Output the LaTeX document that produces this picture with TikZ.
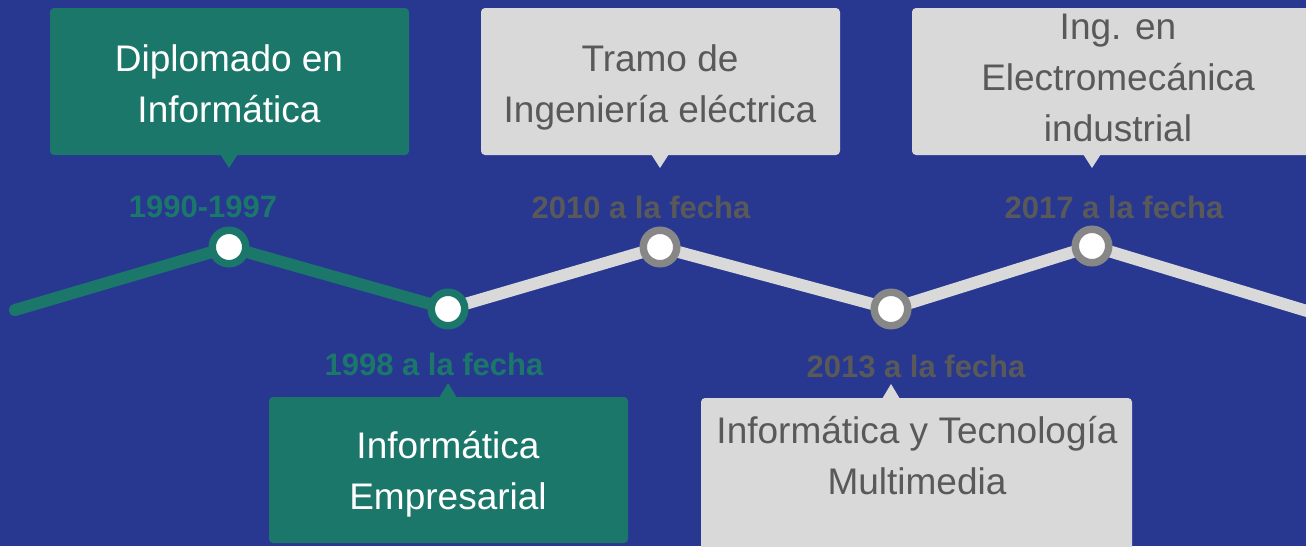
\documentclass[tikz,border=0pt]{standalone}
\usepackage{fontspec}
\setmainfont{Liberation Sans}
\usetikzlibrary{backgrounds}
\definecolor{bg}{HTML}{283891}
\definecolor{tealc}{HTML}{1C776B}
\definecolor{lightg}{HTML}{D9D9D9}
\definecolor{ringg}{HTML}{878787}
\definecolor{darkg}{HTML}{595959}
\begin{document}
\begin{tikzpicture}[x=1pt,y=-1pt,
  card/.style={rounded corners=4pt, inner sep=0pt, outer sep=0pt, draw=none},
  cardtxt/.style={align=center, font=\fontsize{37}{51}\selectfont, inner sep=0pt},
  datetxt/.style={font=\fontsize{31}{36}\selectfont\bfseries, inner sep=0pt},
  dot/.style={circle, minimum size=33.5pt, line width=7.5pt, fill=white, inner sep=0pt},
  track/.style={line width=12pt, line join=round},
]
\useasboundingbox (0,0) rectangle (1306,546);
\clip (0,0) rectangle (1306,546);

% timeline dots
\coordinate (start) at (15,310);
\coordinate (finish) at (1330,318);
\node[dot, draw=tealc] (c1) at (229,247) {};
\node[dot, draw=tealc] (c2) at (448,309) {};
\node[dot, draw=ringg] (c3) at (660,247) {};
\node[dot, draw=ringg] (c4) at (891,309) {};
\node[dot, draw=ringg] (c5) at (1092,246) {};

\begin{scope}[on background layer]
  \fill[bg] (0,0) rectangle (1306,546);
  \draw[track, lightg] (c2.center) -- (c3.center) -- (c4.center) -- (c5.center) -- (finish);
  \draw[track, tealc, line cap=round] (start) -- (c1.center) -- (c2.center);
\end{scope}

% cards
\node[card, fill=tealc, minimum width=359pt, minimum height=147pt] (b1) at (229.5,81.5) {};
\fill[tealc] (b1.south -| c1) ++(-9,-1) -- ++(9,14) -- ++(9,-14) -- cycle;
\node[cardtxt, text=white] (t1) at (229,84) {Diplomado en\\Informática};

\node[card, fill=lightg, minimum width=359pt, minimum height=147pt] (b2) at (660.5,81.5) {};
\fill[lightg] (b2.south -| c3) ++(-9,-1) -- ++(9,14) -- ++(9,-14) -- cycle;
\node[cardtxt, text=darkg] (t2) at (660,87) {Tramo de\\Ingeniería eléctrica};

\node[card, fill=lightg, minimum width=412pt, minimum height=147pt] (b3) at (1118,81.5) {};
\fill[lightg] (b3.south -| c5) ++(-9,-1) -- ++(9,14) -- ++(9,-14) -- cycle;
\node[cardtxt, text=darkg] (t3) at (1118,78) {Ing. en\\Electromecánica\\industrial};

\node[card, fill=tealc, minimum width=359pt, minimum height=146pt] (b4) at (448.5,470) {};
\fill[tealc] (b4.north -| c2) ++(-9,1) -- ++(9,-15) -- ++(9,15) -- cycle;
\node[cardtxt, text=white] (t4) at (448,474) {Informática\\Empresarial};

\node[card, fill=lightg, minimum width=431pt, minimum height=170pt] (b5) at (916.5,483) {};
\fill[lightg] (b5.north -| c4) ++(-9,1) -- ++(9,-15) -- ++(9,15) -- cycle;
\node[cardtxt, text=darkg] (t5) at (917,456) {Informática y Tecnología\\Multimedia};

% dates
\node[datetxt, text=tealc] (d1) at (203,207) {1990-1997};
\node[datetxt, text=darkg] (d2) at (641,207) {2010 a la fecha};
\node[datetxt, text=darkg] (d3) at (1114,207) {2017 a la fecha};
\node[datetxt, text=tealc] (d4) at (434,364) {1998 a la fecha};
\node[datetxt, text=darkg] (d5) at (916,366) {2013 a la fecha};
\end{tikzpicture}
\end{document}
